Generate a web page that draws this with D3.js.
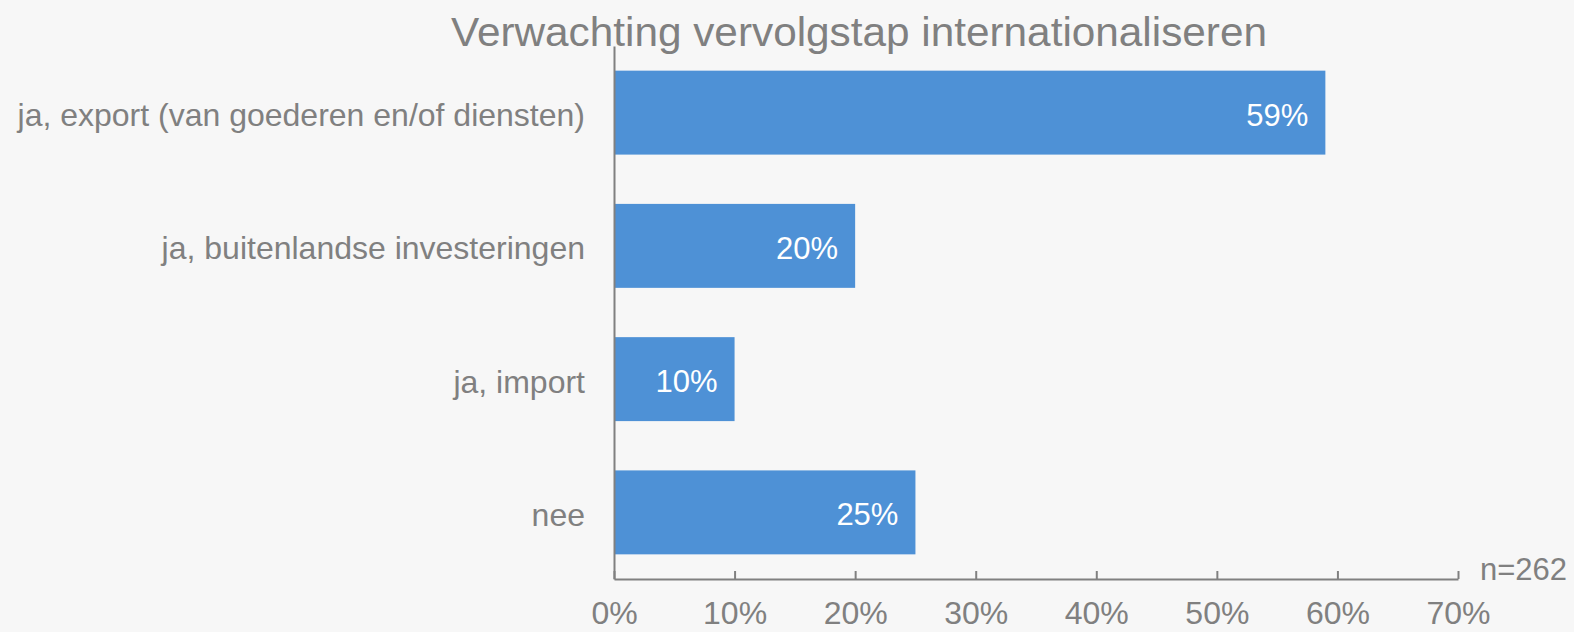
<!DOCTYPE html>
<html>
<head>
<meta charset="utf-8">
<script src="https://cdn.jsdelivr.net/npm/d3@7"></script>
<style>
  html, body { margin: 0; padding: 0; background: #f7f7f7; }
  svg { display: block; font-family: "Liberation Sans", Arial, sans-serif; }
</style>
</head>
<body>
<div id="chart"></div>
<script>
const WIDTH = 1574;
const HEIGHT = 632;

// Data.
const categories = ["ja, export (van goederen en/of diensten)", "ja, buitenlandse investeringen", "ja, import", "nee"];
const values = [59, 20, 10, 25];
const xTicks = [0, 10, 20, 30, 40, 50, 60, 70];
const title = "Verwachting vervolgstap internationaliseren";
const note = "n=262";

const M = {left: 614, right: 116, top: 46, bottom: 53};
const GREY = "#808080";

var svg = d3.select("#chart").append("svg")
    .attr("width", WIDTH)
    .attr("height", HEIGHT);

svg.append("rect").attr("width", WIDTH).attr("height", HEIGHT).attr("fill", "#f7f7f7");

var x = d3.scaleLinear().domain([0, 70]).range([M.left, WIDTH - M.right]);
var y = d3.scaleBand().domain(categories).range([M.top, HEIGHT - M.bottom]).paddingInner(0.37).paddingOuter(0.185);

// bars
svg.selectAll(".bar")
    .data(values)
    .enter()
    .append("rect")
    .attr("class", "bar")
    .attr("x", x(0))
    .attr("y", function(d, i) { return y(categories[i]); })
    .attr("width", function(d) { return x(d) - x(0); })
    .attr("height", y.bandwidth())
    .attr("fill", "#4e91d6");

// value labels
svg.selectAll(".val")
    .data(values)
    .enter()
    .append("text")
    .attr("x", function(d) { return x(d) - 17; })
    .attr("y", function(d, i) { return y(categories[i]) + y.bandwidth() / 2 + 13; })
    .attr("text-anchor", "end")
    .attr("font-size", "31px")
    .attr("fill", "#ffffff")
    .text(function(d) { return d + "%"; });

// x axis
var xAxis = d3.axisBottom(x)
    .tickValues(xTicks)
    .tickFormat(function(d) { return d + "%"; })
    .tickSizeInner(-8)
    .tickSizeOuter(0)
    .tickPadding(22);

var gx = svg.append("g")
    .attr("transform", "translate(0," + (HEIGHT - M.bottom) + ")")
    .call(xAxis);
gx.select(".domain").attr("stroke", GREY).attr("stroke-width", 2);
gx.selectAll(".tick line").attr("stroke", GREY).attr("stroke-width", 2);
gx.selectAll(".tick text")
    .attr("fill", GREY)
    .attr("font-size", "32px")
    .attr("font-family", "Liberation Sans, Arial, sans-serif");

// y axis
var yAxis = d3.axisLeft(y).tickSize(0).tickPadding(29);
var gy = svg.append("g")
    .attr("transform", "translate(" + M.left + ",0)")
    .call(yAxis);
gy.select(".domain").attr("stroke", GREY).attr("stroke-width", 2);
gy.selectAll(".tick text")
    .attr("fill", GREY)
    .attr("font-size", "32px")
    .attr("dy", "0.42em")
    .attr("font-family", "Liberation Sans, Arial, sans-serif");

// title
svg.append("text")
    .attr("x", 859)
    .attr("y", 46)
    .attr("text-anchor", "middle")
    .attr("font-size", "41px")
    .attr("fill", GREY)
    .attr("textLength", 816)
    .attr("lengthAdjust", "spacingAndGlyphs")
    .text(title);

// n note
svg.append("text")
    .attr("x", 1480)
    .attr("y", 580)
    .attr("font-size", "31px")
    .attr("fill", GREY)
    .text(note);
</script>
</body>
</html>
